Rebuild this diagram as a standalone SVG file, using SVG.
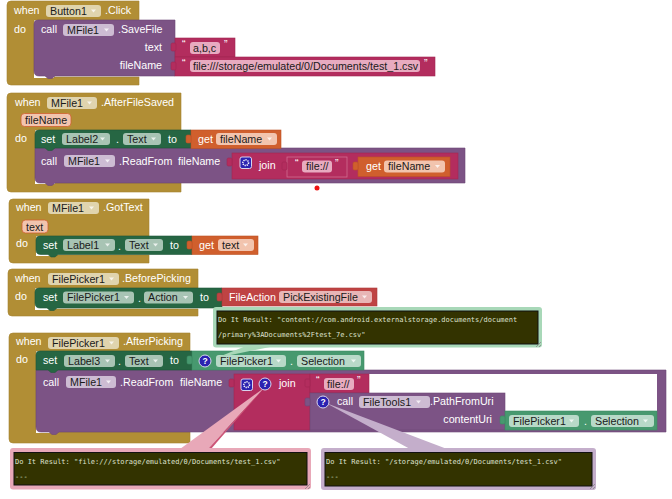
<svg xmlns="http://www.w3.org/2000/svg" width="672" height="499" viewBox="0 0 672 499">
<style>
text{font-family:"Liberation Sans",Arial,sans-serif;font-size:10.7px}
.t{fill:#fff}.b{fill:#1a1a1a}.e{text-anchor:end}
.gold{fill:#b18e35;stroke:#a58330;stroke-width:.6}
.purple{fill:#7c5385;stroke:#6d4875;stroke-width:.6}
.green{fill:#266643;stroke:#20583a;stroke-width:.6}
.orange{fill:#d05f2d;stroke:#bd5326;stroke-width:.6}
.rose{fill:#b32d5e;stroke:#a12652;stroke-width:.6}
.rosein{fill:#b32d5e;stroke:#cf6c90;stroke-width:.8}
.teal{fill:#47996f;stroke:#3d8a63;stroke-width:.6}
.red{fill:#bf4343;stroke:#ab3a3a;stroke-width:.6}
.fgo{fill:#e0d4ae}.fp{fill:#cdbcd3}.fg{fill:#a8c4b4}.fo{fill:#f2c4ae}.fr{fill:#e8abc0}.ft{fill:#b8d9c8}.fd{fill:#e8b6b6}
.tri{fill:#fff;opacity:.75}
.wh{fill:#fff}
.tip{fill:#333300;stroke:#111;stroke-width:1}
.tt{font-family:"DejaVu Sans Mono","Liberation Mono",monospace;font-size:7px;fill:#dfe2cf}
.bg1{fill:#a8d8b8}.bg2{fill:#e8a8b8}.bg3{fill:#c4aecb}
.ic{fill:#2b22b0;stroke:#d8d4ee;stroke-width:1}
.q{font-family:"Liberation Sans",Arial,sans-serif;font-size:8.5px;font-weight:bold;fill:#fff;text-anchor:middle}
.gear{fill:none;stroke:#fff;stroke-width:1.6;stroke-dasharray:1.2 .9}
.grip{fill:none;stroke:#888;stroke-width:.8}
</style>

<g id="block-click">
<path class="gold" d="M11 1H139V20H34V77H139V85H11Q7 85 7 81V5Q7 1 11 1Z"/>
<text class="t" x="14" y="14">when</text>
<rect class="fgo" x="46" y="5" width="55" height="12" rx="3"/><text class="b" x="50" y="14.500">Button1</text><path class="tri" d="M91 9.500h5l-2.500 3z"/>
<text class="t" x="105" y="14">.Click</text>
<text class="t" x="14" y="33">do</text>
<rect class="wh" x="34" y="70" width="20" height="8"/>
<path class="purple" d="M38 20H175V76H55l-3 2.500h-4l-3-2.500H39Q34 76 34 71V24Q34 20 38 20Z"/>
<text class="t" x="41" y="33">call</text>
<rect class="fp" x="63" y="24" width="51" height="12" rx="3"/><text class="b" x="67" y="33.500">MFile1</text><path class="tri" d="M104 28.500h5l-2.500 3z"/>
<text class="t" x="118" y="33">.SaveFile</text>
<text class="t e" x="162" y="51">text</text>
<text class="t e" x="162" y="69">fileName</text>
<rect class="rose" x="175" y="38" width="60" height="19"/><rect class="rose" x="171" y="43" width="5" height="8" rx="1.500"/>
<text class="t" x="182" y="48">“</text>
<rect class="fr" x="190" y="42" width="30" height="12" rx="3"/><text class="b" x="193" y="51.500">a,b,c</text>
<text class="t" x="224" y="48">”</text>
<rect class="rose" x="175" y="57" width="260" height="19"/><rect class="rose" x="171" y="62" width="5" height="8" rx="1.500"/>
<text class="t" x="182" y="67">“</text>
<rect class="fr" x="190" y="60" width="230" height="12" rx="3"/><text class="b" x="193" y="69.500">file:///storage/emulated/0/Documents/test_1.csv</text>
<text class="t" x="424" y="67">”</text>
</g>

<g id="block-afterfilesaved">
<path class="gold" d="M11 93H181V130H35V183H181V192H11Q7 192 7 188V97Q7 93 11 93Z"/>
<text class="t" x="15" y="106">when</text>
<rect class="fgo" x="47" y="97" width="50" height="12" rx="3"/><text class="b" x="51" y="106.500">MFile1</text><path class="tri" d="M87 101.500h5l-2.500 3z"/>
<text class="t" x="101" y="106">.AfterFileSaved</text>
<rect class="fo" x="21" y="113.500" width="50" height="13" rx="3.500" stroke="#d05f2d" stroke-width=".8"/><text class="b" x="25" y="124">fileName</text>
<text class="t" x="15" y="142">do</text>
<rect class="wh" x="35" y="176" width="20" height="8"/>
<path class="purple" d="M35 148H465V183H55l-3 2.500h-4l-3-2.500H40Q35 183 35 178Z"/>
<path class="green" d="M39 130H191V148H55l-3 2.500h-4l-3-2.500H35V134Q35 130 39 130Z"/>
<text class="t" x="41" y="142.500">set</text>
<rect class="fg" x="62" y="133" width="48" height="12" rx="3"/><text class="b" x="66" y="142.500">Label2</text><path class="tri" d="M100 137.500h5l-2.500 3z"/>
<text class="t" x="116" y="143">.</text>
<rect class="fg" x="123" y="133" width="38" height="12" rx="3"/><text class="b" x="127" y="142.500">Text</text><path class="tri" d="M151 137.500h5l-2.500 3z"/>
<text class="t" x="168" y="142.500">to</text>
<rect class="orange" x="191" y="130" width="90" height="18.500"/><rect class="orange" x="186" y="135" width="5" height="8" rx="1.500"/>
<text class="t" x="198" y="142.500">get</text>
<rect class="fo" x="216" y="133" width="61" height="12" rx="3"/><text class="b" x="220" y="142.500">fileName</text><path class="tri" d="M267 137.500h5l-2.500 3z"/>
<text class="t" x="41" y="164.500">call</text>
<rect class="fp" x="64" y="155" width="51" height="12" rx="3"/><text class="b" x="68" y="164.500">MFile1</text><path class="tri" d="M105 159.500h5l-2.500 3z"/>
<text class="t" x="119" y="164.500">.ReadFrom</text>
<text class="t" x="178" y="164.500">fileName</text>
<rect class="rose" x="232" y="153" width="226" height="26"/><rect class="rose" x="227" y="158" width="5" height="8" rx="1.500"/>
<rect class="ic" x="240" y="157" width="11.500" height="11.500" rx="2"/><circle class="gear" cx="245.700" cy="162.700" r="2.800"/>
<text class="t" x="259" y="169">join</text>
<rect class="rosein" x="287" y="157" width="60" height="20"/><rect class="rose" x="282" y="162" width="5" height="8" rx="1.500"/>
<text class="t" x="295" y="167">“</text>
<rect class="fr" x="302" y="160.500" width="30" height="12" rx="3"/><text class="b" x="306" y="170">file://</text>
<text class="t" x="335" y="167">”</text>
<rect class="orange" x="358" y="157" width="92" height="19.500"/><rect class="orange" x="353" y="162" width="5" height="8" rx="1.500"/>
<text class="t" x="366" y="170">get</text>
<rect class="fo" x="384" y="160.500" width="61" height="12" rx="3"/><text class="b" x="388" y="170">fileName</text><path class="tri" d="M435 165h5l-2.500 3z"/>
</g>

<g id="red-dot"><circle cx="317" cy="188" r="2.500" fill="#ee1111"/></g>

<g id="block-gottext">
<path class="gold" d="M13 199H149V236H36V255H149V263H13Q9 263 9 259V203Q9 199 13 199Z"/>
<text class="t" x="16" y="211">when</text>
<rect class="fgo" x="48" y="202" width="51" height="12" rx="3"/><text class="b" x="52" y="211.500">MFile1</text><path class="tri" d="M89 206.500h5l-2.500 3z"/>
<text class="t" x="103" y="211">.GotText</text>
<rect class="fo" x="22" y="220" width="26" height="13" rx="3.500" stroke="#d05f2d" stroke-width=".8"/><text class="b" x="26" y="230.500">text</text>
<text class="t" x="16" y="247">do</text>
<rect class="wh" x="36" y="248" width="20" height="8"/>
<path class="green" d="M40 236H192V254.500H58l-3 2.500h-4l-3-2.500H41Q36 254.500 36 250V240Q36 236 40 236Z"/>
<text class="t" x="43" y="249">set</text>
<rect class="fg" x="63" y="239" width="52" height="12" rx="3"/><text class="b" x="67" y="248.500">Label1</text><path class="tri" d="M105 243.500h5l-2.500 3z"/>
<text class="t" x="118" y="249.500">.</text>
<rect class="fg" x="125" y="239" width="38" height="12" rx="3"/><text class="b" x="129" y="248.500">Text</text><path class="tri" d="M153 243.500h5l-2.500 3z"/>
<text class="t" x="170" y="249">to</text>
<rect class="orange" x="192" y="236" width="66" height="18.500"/><rect class="orange" x="187" y="241" width="5" height="8" rx="1.500"/>
<text class="t" x="199" y="249">get</text>
<rect class="fo" x="218" y="239" width="36" height="12" rx="3"/><text class="b" x="222" y="248.500">text</text><path class="tri" d="M243 243.500h5l-2.500 3z"/>
</g>

<g id="block-beforepicking">
<path class="gold" d="M12 269H198V288H35V309H198V316H12Q8 316 8 312V273Q8 269 12 269Z"/>
<text class="t" x="15" y="282">when</text>
<rect class="fgo" x="48" y="273" width="71" height="12" rx="3"/><text class="b" x="52" y="282.500">FilePicker1</text><path class="tri" d="M109 277.500h5l-2.500 3z"/>
<text class="t" x="122" y="282">.BeforePicking</text>
<text class="t" x="15" y="300">do</text>
<rect class="wh" x="35" y="302" width="20" height="8"/>
<path class="green" d="M39 288H222V308H57l-3 2.500h-4l-3-2.500H40Q35 308 35 303V292Q35 288 39 288Z"/>
<text class="t" x="43" y="301">set</text>
<rect class="fg" x="63" y="291.500" width="71" height="12" rx="3"/><text class="b" x="67" y="301">FilePicker1</text><path class="tri" d="M124 296h5l-2.500 3z"/>
<text class="t" x="138" y="302">.</text>
<rect class="fg" x="144" y="291.500" width="49" height="12" rx="3"/><text class="b" x="148" y="301">Action</text><path class="tri" d="M183 296h5l-2.500 3z"/>
<text class="t" x="200" y="301">to</text>
<rect class="red" x="222" y="288" width="155" height="18"/><rect class="red" x="217" y="293" width="5" height="8" rx="1.500"/>
<text class="t" x="229" y="301">FileAction</text>
<rect class="fd" x="279" y="291" width="93" height="12" rx="3"/><text class="b" x="283" y="300.500">PickExistingFile</text><path class="tri" d="M362 295.500h5l-2.500 3z"/>
</g>

<g id="block-afterpicking">
<path class="gold" d="M13 333H190V351H36V432H190V443H13Q9 443 9 439V337Q9 333 13 333Z"/>
<text class="t" x="16" y="345">when</text>
<rect class="fgo" x="48" y="337" width="71" height="12" rx="3"/><text class="b" x="52" y="346.500">FilePicker1</text><path class="tri" d="M109 341.500h5l-2.500 3z"/>
<text class="t" x="123" y="345">.AfterPicking</text>
<text class="t" x="16" y="363">do</text>
<rect class="wh" x="36" y="424" width="22" height="9"/>
<path class="purple" d="M36 370H666V432H59l-3 2.500h-4l-3-2.500H41Q36 432 36 427Z"/>
<path class="green" d="M40 351H192V370H58l-3 2.500h-4l-3-2.500H36V355Q36 351 40 351Z"/>
<text class="t" x="43" y="364">set</text>
<rect class="fg" x="64" y="355" width="51" height="12" rx="3"/><text class="b" x="68" y="364.500">Label3</text><path class="tri" d="M105 359.500h5l-2.500 3z"/>
<text class="t" x="118" y="365">.</text>
<rect class="fg" x="125" y="355" width="38" height="12" rx="3"/><text class="b" x="129" y="364.500">Text</text><path class="tri" d="M153 359.500h5l-2.500 3z"/>
<text class="t" x="170" y="364">to</text>
<rect class="teal" x="192" y="351" width="172" height="19"/><rect class="teal" x="187" y="356" width="5" height="8" rx="1.500"/>
<rect class="ft" x="216" y="355" width="70" height="12" rx="3"/><text class="b" x="220" y="364.500">FilePicker1</text><path class="tri" d="M276 359.500h5l-2.500 3z"/>
<text class="t" x="290" y="365">.</text>
<rect class="ft" x="297" y="355" width="64" height="12" rx="3"/><text class="b" x="301" y="364.500">Selection</text><path class="tri" d="M351 359.500h5l-2.500 3z"/>
<text class="t" x="43" y="385.500">call</text>
<rect class="fp" x="66" y="376" width="50" height="12" rx="3"/><text class="b" x="70" y="385.500">MFile1</text><path class="tri" d="M106 380.500h5l-2.500 3z"/>
<text class="t" x="120" y="385.500">.ReadFrom</text>
<text class="t" x="180" y="385.500">fileName</text>
<rect class="wh" x="369" y="374" width="288" height="19"/>
<rect class="wh" x="505" y="393" width="152" height="18"/>
<rect class="rose" x="234" y="374" width="76" height="56"/><rect class="rose" x="229" y="379" width="5" height="8" rx="1.500"/>
<rect class="rose" x="310" y="374" width="59" height="19"/><rect class="rose" x="305" y="379" width="5" height="8" rx="1.500"/>
<text class="t" x="279" y="387">join</text>
<text class="t" x="316" y="384">“</text>
<rect class="fr" x="324" y="378" width="30" height="12" rx="3"/><text class="b" x="327" y="387.500">file://</text>
<text class="t" x="357" y="384">”</text>
<rect class="purple" x="310" y="393" width="195" height="37" stroke="#b7a0bd"/><rect class="purple" x="305" y="398" width="5" height="8" rx="1.500"/>
<text class="t" x="337" y="405">call</text>
<rect class="fp" x="359" y="396" width="71" height="12" rx="3"/><text class="b" x="363" y="405.500">FileTools1</text><path class="tri" d="M416 400.500h5l-2.500 3z"/>
<text class="t" x="430" y="405">.PathFromUri</text>
<text class="t e" x="492" y="423">contentUri</text>
<rect class="teal" x="505" y="411" width="152" height="19"/><rect class="teal" x="500" y="416" width="5" height="8" rx="1.500"/>
<rect class="ft" x="509" y="415" width="70" height="12" rx="3"/><text class="b" x="513" y="424.500">FilePicker1</text><path class="tri" d="M569 419.500h5l-2.500 3z"/>
<text class="t" x="584" y="425">.</text>
<rect class="ft" x="591" y="415" width="63" height="12" rx="3"/><text class="b" x="595" y="424.500">Selection</text><path class="tri" d="M643 419.500h5l-2.500 3z"/>
</g>

<g id="connectors">
<path class="bg1" d="M246 346H275L216 358Z"/>
<path class="bg2" d="M180 449H208L264 388Z"/>
<path fill="#cc5577" d="M208 449H211L264 388Z"/>
<path class="bg3" d="M410 449H447L326 403Z"/>
</g>

<g id="icons">
<circle class="ic" cx="205" cy="361" r="6"/><text class="q" x="205" y="364">?</text>
<rect class="ic" x="241" y="379" width="11.500" height="11.500" rx="2"/><circle class="gear" cx="246.700" cy="384.700" r="2.800"/>
<circle class="ic" cx="265" cy="384" r="6"/><text class="q" x="265" y="387">?</text>
<circle class="ic" cx="323" cy="402" r="6"/><text class="q" x="323" y="405">?</text>
</g>

<g id="tooltip-content">
<rect class="bg1" x="213" y="307" width="329" height="40.500" rx="3"/>
<rect class="tip" x="217" y="311" width="321" height="33"/>
<text class="tt" x="218" y="322">Do It Result: "content://com.android.externalstorage.documents/document</text>
<text class="tt" x="218" y="337">/primary%3ADocuments%2Ftest_7e.csv"</text>
<path class="grip" d="M536 347l5-5M539 347l2-2"/>
</g>
<g id="tooltip-file">
<rect class="bg2" x="10" y="448" width="301" height="41.500" rx="3"/>
<rect class="tip" x="14" y="452.500" width="293" height="32.500"/>
<text class="tt" x="15" y="463.500">Do It Result: "file:///storage/emulated/0/Documents/test_1.csv"</text>
<text class="tt" x="15" y="478.500">---</text>
<path class="grip" d="M305 489l5-5M308 489l2-2"/>
</g>
<g id="tooltip-path">
<rect class="bg3" x="321" y="448" width="275" height="42" rx="3"/>
<rect class="tip" x="325" y="452.500" width="267" height="33.500"/>
<text class="tt" x="326" y="463.500">Do It Result: "/storage/emulated/0/Documents/test_1.csv"</text>
<text class="tt" x="326" y="478.500">---</text>
<path class="grip" d="M590 489l5-5M593 489l2-2"/>
</g>
</svg>
